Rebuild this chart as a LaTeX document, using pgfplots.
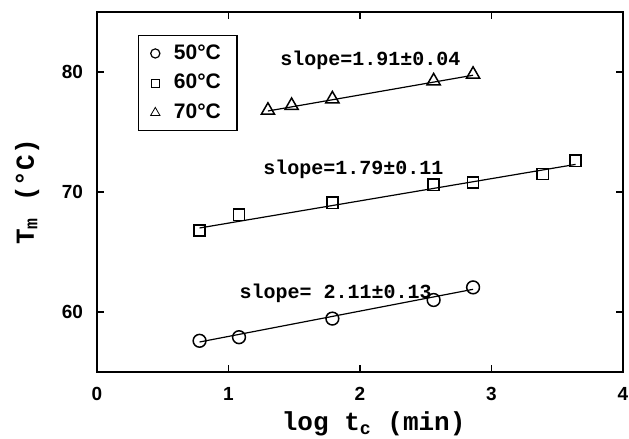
\documentclass[border=0pt]{standalone}
\usepackage{fontspec}
\setsansfont{Liberation Sans}
\setmonofont{Liberation Mono}
\usepackage{pgfplots}
\pgfplotsset{compat=1.18}

% 1 px of the reference = 0.5pt
\pgfplotstableread{
x    y
0.78 57.60
1.08 57.90
1.79 59.45
2.56 61.00
2.86 62.05
}\tfifty
\pgfplotstableread{
x    y
0.78 66.80
1.08 68.10
1.79 69.10
2.56 70.60
2.86 70.80
3.39 71.50
3.64 72.60
}\tsixty
\pgfplotstableread{
x    y
1.30 76.80
1.48 77.20
1.79 77.75
2.56 79.25
2.86 79.80
}\tseventy

\begin{document}
\begin{tikzpicture}
\path[use as bounding box] (-48.5pt,-33.5pt) rectangle (266pt,186pt);
\begin{axis}[
  at={(0,0)}, anchor=south west,
  scale only axis, width=263pt, height=180pt,
  xmin=0, xmax=4, ymin=55, ymax=85,
  xtick={0,1,2,3,4}, ytick={60,70,80},
  axis line style={line width=0.8pt},
  major tick length=3.5pt,
  tick style={line width=0.6pt, black},
  /pgf/number format/assume math mode=true,
  tick label style={font=\sffamily\bfseries\fontsize{9.5}{11}\selectfont},
  xticklabel style={yshift=-4pt},
  yticklabel style={xshift=-3.5pt},
  xlabel={log t\textsubscript{c} (min)},
  xlabel style={font=\ttfamily\bfseries\fontsize{13}{15}\selectfont,
    at={(axis description cs:0.526,-0.145)}, anchor=center},
  ylabel={T\textsubscript{m} (°C)},
  ylabel style={font=\ttfamily\bfseries\fontsize{13}{15}\selectfont,
    at={(axis description cs:-0.133,0.5)}, anchor=center},
  legend style={at={(axis description cs:0.078,0.936)}, anchor=north west,
    draw=black, line width=0.6pt, inner xsep=6pt, inner ysep=2.5pt,
    row sep=2pt,
    /tikz/every odd column/.append style={column sep=5pt},
    font=\sffamily\bfseries\fontsize{10.5}{12}\selectfont},
  legend cell align=left,
]
\addplot[only marks, mark=o, mark size=3.2pt, line width=0.75pt,
  legend image post style={mark size=2.3pt, line width=0.6pt}] table[x=x,y=y] {\tfifty};
\addlegendentry{50°C}
\addplot[only marks, mark=square, mark size=2.8pt, line width=0.75pt,
  legend image post style={mark size=2.1pt, line width=0.4pt}] table[x=x,y=y] {\tsixty};
\addlegendentry{60°C}
\addplot[only marks, mark=triangle, mark size=3.8pt, line width=0.75pt,
  legend image post style={mark size=2.7pt, line width=0.4pt}] table[x=x,y=y] {\tseventy};
\addlegendentry{70°C}

% fitted lines
\addplot[forget plot, line width=0.6pt] coordinates {(0.78,57.50) (2.86,61.89)};
\addplot[forget plot, line width=0.6pt] coordinates {(0.78,67.00) (3.64,72.30)};
\addplot[forget plot, line width=0.6pt] coordinates {(1.30,76.75) (2.86,79.73)};

\node[font=\ttfamily\bfseries\fontsize{10}{12}\selectfont] at (axis cs:2.08,80.97) {slope=1.91±0.04};
\node[font=\ttfamily\bfseries\fontsize{10}{12}\selectfont] at (axis cs:1.95,71.86) {slope=1.79±0.11};
\node[font=\ttfamily\bfseries\fontsize{10}{12}\selectfont] at (axis cs:1.815,61.58) {slope= 2.11±0.13};
\end{axis}
\end{tikzpicture}
\end{document}
